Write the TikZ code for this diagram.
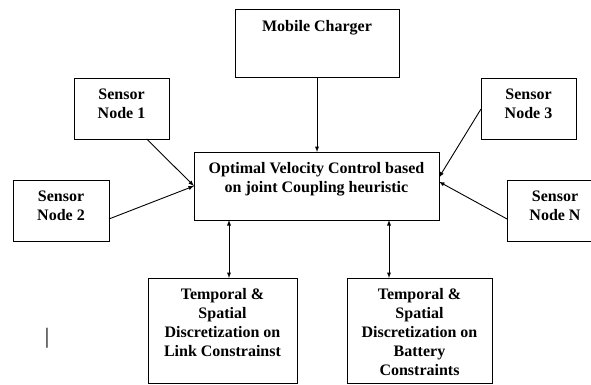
\documentclass[tikz,border=0pt]{standalone}
\usepackage{fontspec}
\setmainfont{Liberation Serif}
\usepackage{tikz}
\usetikzlibrary{arrows,calc,positioning}
\tikzstyle{block} = [draw, line width=1pt, rectangle, align=center,
    inner sep=0pt, outer sep=0pt,
    font=\bfseries\fontsize{16}{19}\selectfont]
\tikzstyle{link} = [-latex, line width=0.9pt]

\begin{document}
\begin{tikzpicture}[x=1pt,y=-1pt]
\useasboundingbox (0,0) rectangle (591,385);
\clip (0,0) rectangle (591,385);
% boxes (text height/depth measured from the last line)
\node[block, anchor=north, minimum width=164pt, text height=22pt, text depth=46pt] (charger) at (317,10) {Mobile Charger};
\node[block, anchor=north, minimum width=245pt, text height=40pt, text depth=28pt] (control) at (316.5,152) {Optimal Velocity Control based\\ on joint Coupling heuristic};
\node[block, anchor=north, minimum width=95pt, text height=40pt, text depth=20pt] (sensorA) at (121.5,79) {Sensor\\ Node 1};
\node[block, anchor=north, minimum width=96pt, text height=40.5pt, text depth=20.5pt] (sensorB) at (61,180) {Sensor\\ Node 2};
\node[block, anchor=north, minimum width=95pt, text height=40pt, text depth=20pt] (sensorC) at (528.5,79) {Sensor\\ Node 3};
\node[block, anchor=north, minimum width=96pt, text height=40.5pt, text depth=20.5pt] (sensorN) at (555,180) {Sensor\\ Node N};
\node[block, anchor=north, minimum width=149pt, text height=78pt, text depth=27pt] (linkbox) at (222.5,278) {Temporal \&\\ Spatial\\ Discretization on\\ Link Constrainst};
\node[block, anchor=north, minimum width=145pt, text height=97pt, text depth=8pt] (battbox) at (419.5,278) {Temporal \&\\ Spatial\\ Discretization on\\ Battery\\ Constraints};
\node[font=\fontsize{22}{22}\selectfont] (bar) at (47,338) {|};
% connectors
\draw[link] (charger) -- (charger |- control.north);
\draw[link] (sensorA.-50) -- (control.west);
\draw[link] (sensorB.-10) -- (control.west);
\draw[link] (sensorC.west) -- (control.4);
\draw[link] (sensorN.190) -- (control.2);
\draw[link, latex-latex] ([xshift=6.5pt]linkbox.north) -- ([xshift=6.5pt]linkbox.north |- control.south);
\draw[link, latex-latex] ([xshift=-30.5pt]battbox.north) -- ([xshift=-30.5pt]battbox.north |- control.south);
\end{tikzpicture}
\end{document}
